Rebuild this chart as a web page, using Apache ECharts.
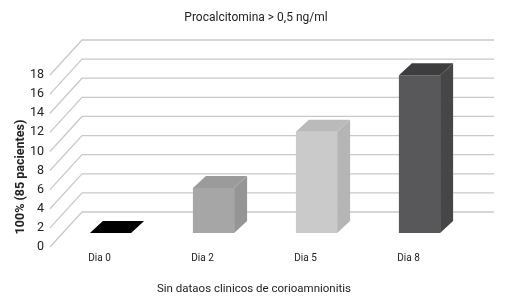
<!DOCTYPE html>
<html>
<head>
<meta charset="utf-8">
<script src="https://cdn.jsdelivr.net/npm/echarts@6/dist/echarts.min.js"></script>
<style>
  html, body { margin: 0; padding: 0; background: #fff; }
  #chart { width: 512px; height: 306px; }
</style>
</head>
<body>
<div id="chart"></div>
<script>
const categories = ['Dia 0', 'Dia 2', 'Dia 5', 'Dia 8'];
const values = [0, 4.7, 10.6, 16.5];
const yTicks = [0, 2, 4, 6, 8, 10, 12, 14, 16, 18];

// front, side, top colours per bar
const barColors = [
  ['#000000', '#000000', '#000000'],
  ['#a6a6a6', '#959595', '#9b9b9b'],
  ['#cacaca', '#b5b5b5', '#bababa'],
  ['#58585a', '#464646', '#3d3d3d']
];

const FONT = 'Roboto, "Open Sans", sans-serif';
// back wall offset and bar depth
const WALL_DX = 32, WALL_DY = -35;
const BAR_OX = 11, BAR_OY = -14;
const BAR_DX = 13, BAR_DY = -12;

const chart = echarts.init(document.getElementById('chart'), null, { renderer: 'canvas' });

function renderWall(params, api) {
  const cs = params.coordSys;
  const y = api.coord([0, api.value(1)])[1];
  const x0 = cs.x + 2;
  return {
    type: 'polyline',
    shape: {
      points: [[x0, y], [x0 + WALL_DX, y + WALL_DY], [x0 + cs.width + WALL_DX, y + WALL_DY]]
    },
    style: { stroke: '#c9c9c9', lineWidth: 1.3, fill: null }
  };
}

function renderBar(params, api) {
  const i = api.value(0);
  const base = api.coord([i, 0]);
  const top = api.coord([i, api.value(1)]);
  const w = api.size([1, 0])[0] * 0.4;
  const xl = base[0] - w / 2 + BAR_OX;
  const xr = base[0] + w / 2 + BAR_OX;
  const yb = base[1] + BAR_OY;
  const yt = top[1] + BAR_OY;
  const c = barColors[i];
  return {
    type: 'group',
    children: [
      {
        type: 'polygon',
        shape: { points: [[xr, yt], [xr + BAR_DX, yt + BAR_DY], [xr + BAR_DX, yb + BAR_DY], [xr, yb]] },
        style: { fill: c[1] }
      },
      {
        type: 'rect',
        shape: { x: xl, y: yt, width: w, height: yb - yt },
        style: { fill: c[0] }
      },
      {
        type: 'polygon',
        shape: { points: [[xl, yt], [xl + BAR_DX, yt + BAR_DY], [xr + BAR_DX, yt + BAR_DY], [xr, yt]] },
        style: { fill: c[2] }
      }
    ]
  };
}

let option = {
  animation: false,
  title: {
    text: 'Procalcitomina > 0,5 ng/ml',
    left: 'center',
    top: 7,
    textStyle: { fontFamily: FONT, fontSize: 12, fontWeight: 'normal', color: '#222' }
  },
  grid: { left: 48, right: 52, top: 75, bottom: 59 },
  xAxis: {
    type: 'category',
    data: categories,
    axisLine: { show: false },
    axisTick: { show: false },
    axisLabel: { margin: 6, fontFamily: FONT, fontSize: 10, color: '#222' },
    name: 'Sin dataos clinicos de corioamnionitis',
    nameLocation: 'middle',
    nameGap: 36,
    nameMoveOverlap: false,
    nameTextStyle: { fontFamily: FONT, fontSize: 11.5, color: '#222' }
  },
  yAxis: {
    type: 'value',
    min: 0,
    max: 18,
    interval: 2,
    axisLine: { show: false },
    axisTick: { show: false },
    splitLine: { show: false },
    axisLabel: { margin: 4, fontFamily: FONT, fontSize: 12.5, color: '#222' },
    name: '100% (85 pacientes)',
    nameLocation: 'middle',
    nameGap: 21,
    nameMoveOverlap: false,
    nameTextStyle: { fontFamily: FONT, fontSize: 12.5, fontWeight: 'bold', color: '#222', padding: [0, 32, 0, 0] }
  },
  series: [
    {
      type: 'custom',
      renderItem: renderWall,
      data: yTicks.map(v => [0, v]),
      silent: true,
      z: 1
    },
    {
      type: 'custom',
      renderItem: renderBar,
      data: values.map((v, i) => [i, v]),
      z: 2
    }
  ]
};

option && chart.setOption(option);
</script>
</body>
</html>
